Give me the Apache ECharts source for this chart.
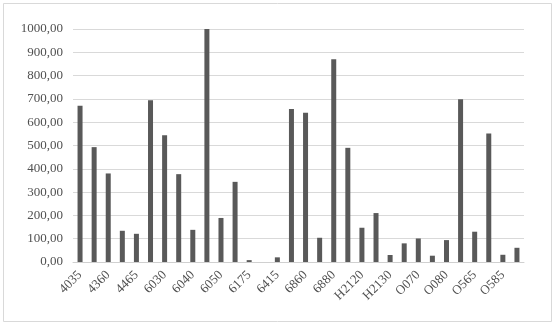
<!DOCTYPE html>
<html>
<head>
<meta charset="utf-8">
<script src="https://cdn.jsdelivr.net/npm/echarts@6/dist/echarts.min.js"></script>
<style>
html,body{margin:0;padding:0;background:#fff;}
#c{width:556px;height:327px;}
</style>
</head>
<body>
<div id="c"></div>
<script>
var categories = ['4035','4040','4360','4400','4465','4470','6030','6035','6040','6045','6050','6060','6175','6180','6415','6420','6860','6870','6880','6890','H2120','H2125','H2130','H2140','O070','O075','O080','O085','O565','O570','O585','O590'];
var values = [671,493,380,134,121,694,544,377,138,1000,189,344,8,0,20,657,641,104,870,490,147,210,30,80,101,27,94,699,130,551,31,61];
var yTicks = {min:0, max:1000, interval:100};

var chart = echarts.init(document.getElementById('c'), null, {renderer:'canvas'});
chart.setOption({
  animation:false,
  backgroundColor:'#fff',
  graphic:[{type:'rect', shape:{x:3.5,y:3.5,width:548,height:318}, style:{fill:'none', stroke:'#d9d9d9', lineWidth:1}, silent:true}],
  grid:{left:73,right:32,top:29,bottom:65,containLabel:false},
  xAxis:{
    type:'category',
    data:categories,
    axisLine:{show:true,lineStyle:{color:'#d0d0d0',width:1}},
    axisTick:{show:false},
    axisLabel:{interval:1,rotate:45,margin:11,fontFamily:'Liberation Serif',fontSize:13,color:'#505050'}
  },
  yAxis:{
    type:'value',
    min:yTicks.min,max:yTicks.max,interval:yTicks.interval,
    axisLine:{show:false},axisTick:{show:false},
    splitLine:{lineStyle:{color:'#d9d9d9',width:1}},
    axisLabel:{margin:10,fontFamily:'Liberation Serif',fontSize:13,color:'#505050',
      formatter:function(v){return v.toFixed(2).replace('.',',');}}
  },
  series:[{type:'bar',data:values,barWidth:5,itemStyle:{color:'#595959'}}]
});
</script>
</body>
</html>
